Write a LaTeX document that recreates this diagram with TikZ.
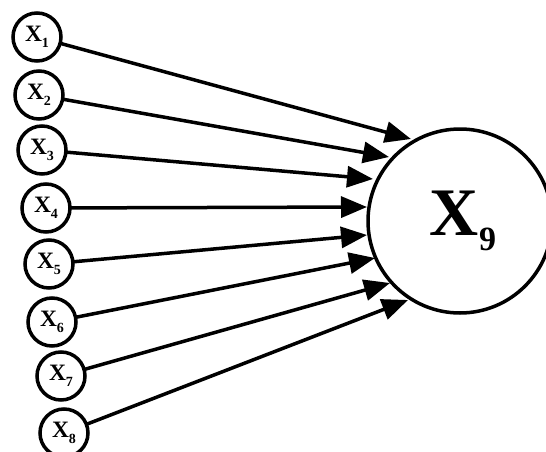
\documentclass[tikz,border=0pt]{standalone}
\usepackage{fontspec}
\setmainfont{Liberation Serif}
\usetikzlibrary{arrows.meta}
\newcommand\smallX[1]{\fontsize{23.5}{25}\selectfont\bfseries X\raisebox{-0.25em}{\fontsize{14}{15}\selectfont #1}}
\newcommand\bigX[1]{\fontsize{68}{72}\selectfont\bfseries X\raisebox{-0.22em}{\fontsize{34}{36}\selectfont #1}}
\tikzset{
  inp/.style={circle, draw, line width=3.5pt, minimum size=48pt, inner sep=0pt},
  outp/.style={circle, draw, line width=3.5pt, minimum size=184pt, inner sep=0pt},
  arr/.style={line width=3.5pt, -{Triangle[length=26pt,width=21pt]}, shorten <=-1pt}
}
\begin{document}
\begin{tikzpicture}[x=1pt,y=-1pt]
\useasboundingbox (0,0) rectangle (546,452);
\node[inp] (x1) at (37,37) {\smallX{1}};
\node[inp] (x2) at (39,95) {\smallX{2}};
\node[inp] (x3) at (42,150) {\smallX{3}};
\node[inp] (x4) at (46,208) {\smallX{4}};
\node[inp] (x5) at (49,264) {\smallX{5}};
\node[inp] (x6) at (52,322) {\smallX{6}};
\node[inp] (x7) at (61,376) {\smallX{7}};
\node[inp] (x8) at (64,433) {\smallX{8}};
\node[outp] (x9) at (460,221) {\hspace{6pt}\bigX{9}};
\coordinate (t1) at (411,139);
\coordinate (t2) at (389,157);
\coordinate (t3) at (373,179);
\coordinate (t4) at (367,207);
\coordinate (t5) at (367,235);
\coordinate (t6) at (375,258);
\coordinate (t7) at (390,283);
\coordinate (t8) at (408,300);
\foreach \i in {1,...,8}{
  \draw[arr] (x\i) -- (t\i);
}
\end{tikzpicture}
\end{document}
